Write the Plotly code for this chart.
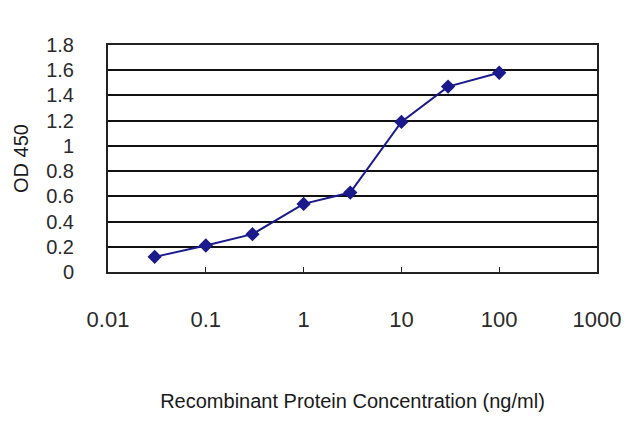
import plotly.graph_objects as go

# dose-response values
concentration = [0.03, 0.1, 0.3, 1, 3, 10, 30, 100]
od450 = [0.12, 0.21, 0.30, 0.54, 0.63, 1.19, 1.47, 1.58]

x_ticks = [0.01, 0.1, 1, 10, 100, 1000]
x_tick_labels = ["0.01", "0.1", "1", "10", "100", "1000"]
y_ticks = [0, 0.2, 0.4, 0.6, 0.8, 1, 1.2, 1.4, 1.6, 1.8]
y_tick_labels = ["0", "0.2", "0.4", "0.6", "0.8", "1", "1.2", "1.4", "1.6", "1.8"]

navy = "#1a1a8c"

fig = go.Figure()
fig.add_trace(go.Scatter(
    x=concentration,
    y=od450,
    mode="lines+markers",
    line=dict(color=navy, width=2),
    marker=dict(symbol="diamond", size=11, color=navy),
    showlegend=False,
))

# page has an 8px body margin, so the margins are shifted to compensate
fig.update_layout(
    width=640,
    height=427,
    margin=dict(l=100, r=51, t=37, b=163),
    paper_bgcolor="white",
    plot_bgcolor="white",
    font=dict(family="Liberation Sans, Arial, sans-serif", color="#222"),
)

fig.update_xaxes(
    type="log",
    range=[-2, 3],
    tickvals=x_ticks,
    ticktext=x_tick_labels,
    tickfont=dict(size=22, color="#2a2a2a"),
    ticks="inside",
    ticklen=5,
    tickcolor="#222",
    showgrid=False,
    showline=True,
    linecolor="#222",
    linewidth=2,
    mirror=True,
    ticklabelstandoff=27,
    title=dict(text="Recombinant Protein Concentration (ng/ml)",
               font=dict(size=20, color="#1a1a1a"), standoff=63),
)

fig.update_yaxes(
    range=[0, 1.8],
    tickvals=y_ticks,
    ticktext=y_tick_labels,
    tickfont=dict(size=20, color="#2a2a2a"),
    showgrid=True,
    gridcolor="#111",
    gridwidth=2,
    zeroline=False,
    showline=True,
    linecolor="#222",
    linewidth=2,
    mirror=True,
    ticks="",
    ticklabelstandoff=28,
    title=dict(text="OD 450", font=dict(size=20, color="#1a1a1a"), standoff=12),
)

fig.write_html("out.html")
